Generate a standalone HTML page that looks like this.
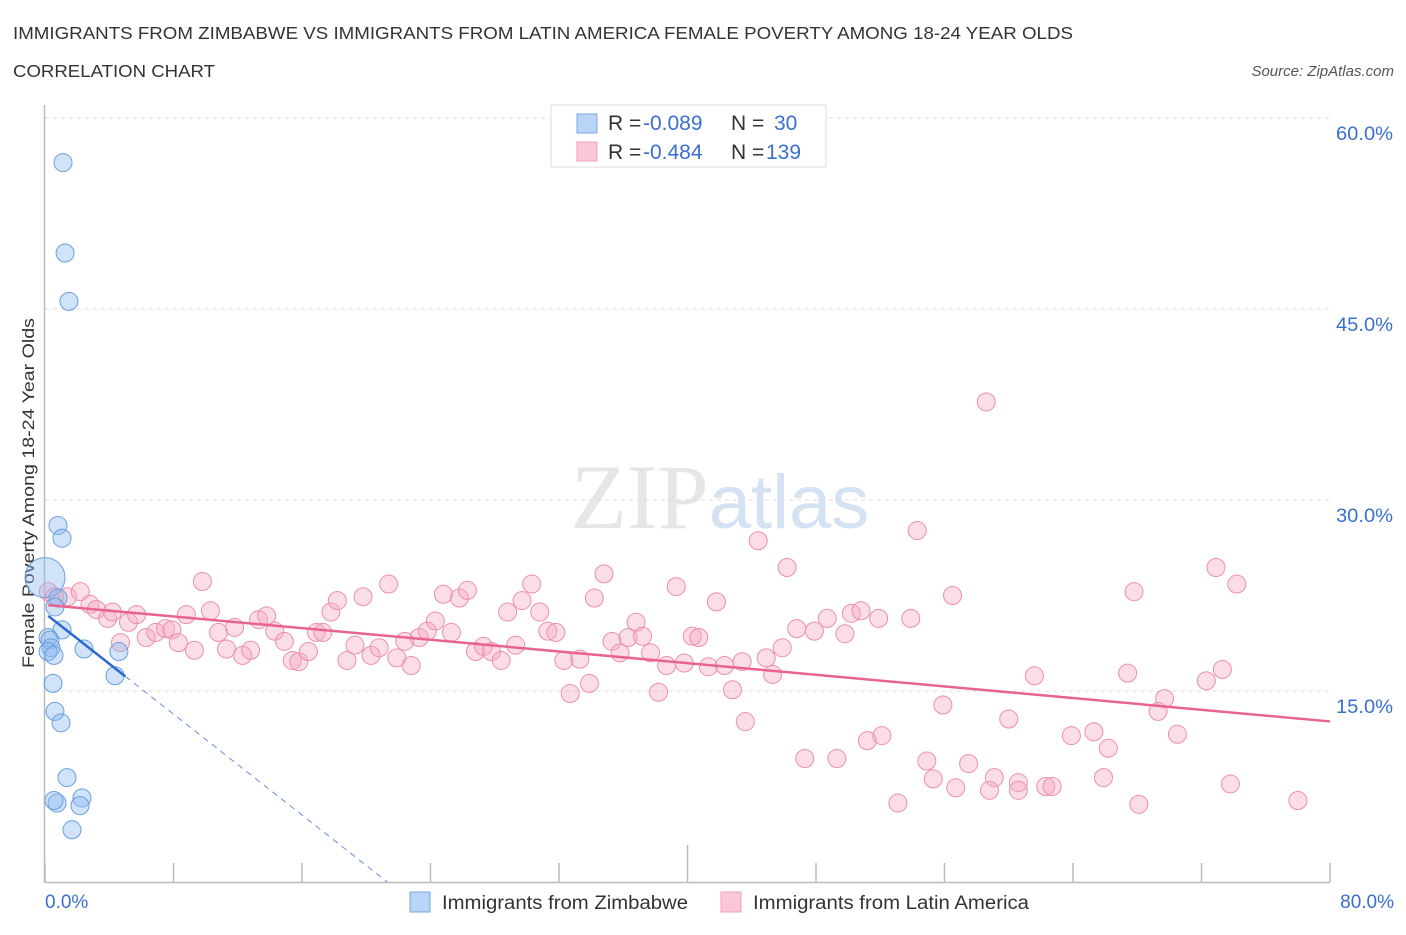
<!DOCTYPE html>
<html><head><meta charset="utf-8"><style>
body{margin:0;background:#fff;font-family:"Liberation Sans",sans-serif;}
svg text{font-family:"Liberation Sans",sans-serif;}
</style></head><body>
<svg id="chart" width="1406" height="930" xmlns="http://www.w3.org/2000/svg">
<text x="13" y="39" font-size="17.5" fill="#333" textLength="1060" lengthAdjust="spacingAndGlyphs">IMMIGRANTS FROM ZIMBABWE VS IMMIGRANTS FROM LATIN AMERICA FEMALE POVERTY AMONG 18-24 YEAR OLDS</text>
<text x="13" y="77" font-size="17.5" fill="#333" textLength="202" lengthAdjust="spacingAndGlyphs">CORRELATION CHART</text>
<text x="1394" y="76" font-size="15" font-style="italic" fill="#555" text-anchor="end">Source: ZipAtlas.com</text>
<text x="720" y="528" font-size="92" text-anchor="middle" fill="#e6e6e6" font-family="Liberation Serif"><tspan font-family="Liberation Serif">ZIP</tspan><tspan font-family="Liberation Sans" fill="#d4e2f4" font-size="76">atlas</tspan></text>
<text transform="translate(34,493) rotate(-90)" font-size="17" fill="#333" text-anchor="middle" textLength="350" lengthAdjust="spacingAndGlyphs">Female Poverty Among 18-24 Year Olds</text>
<g id="grid"></g><g id="axes"></g><g id="marks"></g>
<g>
<rect x="551" y="105" width="275" height="62" fill="#fff" stroke="#ddd"/>
<rect x="577" y="114" width="20" height="19" fill="#b8d4f6" stroke="#7aa8e0"/>
<rect x="577" y="142" width="20" height="19" fill="#fcc6d6" stroke="#eea0b8"/>
<text x="608" y="130" font-size="21" fill="#333">R = <tspan fill="#3a6fd0" x="643">-0.089</tspan><tspan x="731">N = </tspan><tspan fill="#3a6fd0" x="774">30</tspan></text>
<text x="608" y="159" font-size="21" fill="#333">R = <tspan fill="#3a6fd0" x="643">-0.484</tspan><tspan x="731">N = </tspan><tspan fill="#3a6fd0" x="766">139</tspan></text>
</g>
<g>
<rect x="410" y="892" width="20" height="20" fill="#b8d4f6" stroke="#7aa8e0"/>
<text x="442" y="909" font-size="19" fill="#333" textLength="246" lengthAdjust="spacingAndGlyphs">Immigrants from Zimbabwe</text>
<rect x="721" y="892" width="20" height="20" fill="#fcc6d6" stroke="#eea0b8"/>
<text x="753" y="909" font-size="19" fill="#333" textLength="276" lengthAdjust="spacingAndGlyphs">Immigrants from Latin America</text>
</g>
</svg>
<script>
const yTicks=[15,30,45,60];
const yTickLabels=["15.0%","30.0%","45.0%","60.0%"];
const xTicks=[0,10,20,30,40,50,60,70,80];
const xEndLabels=["0.0%","80.0%"];
const zimX=[1.12,1.25,1.49,0.81,1.06,0,0.81,0.62,1.06,0.19,0.31,0.37,0.19,0.56,2.43,4.6,0.5,4.36,0.62,1.0,1.37,0.75,0.56,2.3,2.18,1.68];
const zimY=[56.5,49.4,45.6,28.0,27.0,23.9,22.3,21.6,19.8,19.2,19.0,18.4,18.1,17.8,18.3,18.1,15.6,16.2,13.4,12.5,8.2,6.2,6.4,6.6,6.0,4.1];
const latX=[0.2,0.6,1.4,2.2,2.8,3.2,3.9,4.2,4.7,5.2,5.7,6.3,6.9,7.5,7.9,8.3,8.8,9.3,9.8,10.3,10.8,11.3,11.8,12.3,12.8,13.3,13.8,14.3,14.9,15.4,15.8,16.4,16.9,17.3,17.8,18.2,18.8,19.3,19.8,20.3,20.8,21.4,21.9,22.4,22.8,23.3,23.8,24.3,24.8,25.3,25.8,26.3,26.8,27.3,27.8,28.4,28.8,29.3,29.7,30.3,30.8,31.3,31.8,32.3,32.7,33.3,33.9,34.2,34.8,35.3,35.8,36.3,36.8,37.2,37.7,38.2,38.7,39.3,39.8,40.3,40.7,41.3,41.8,42.3,42.8,43.4,43.6,44.4,44.9,45.3,45.9,46.2,46.8,47.3,47.9,48.7,49.3,49.8,50.2,50.8,51.2,52.1,51.9,53.1,53.9,54.3,54.9,55.3,55.9,56.5,56.7,57.5,58.6,59.1,58.8,60.0,60.6,60.6,61.6,62.3,62.7,63.9,65.3,65.9,66.2,67.4,67.8,68.1,69.3,69.7,70.5,72.3,72.9,73.3,73.8,74.2,78.0];
const latY=[22.8,22.4,22.4,22.8,21.8,21.4,20.7,21.2,18.8,20.4,21.0,19.2,19.6,19.9,19.8,18.8,21.0,18.2,23.6,21.3,19.6,18.3,20.0,17.8,18.2,20.6,20.9,19.7,18.9,17.4,17.3,18.1,19.6,19.6,21.2,22.1,17.4,18.6,22.4,17.8,18.4,23.4,17.6,18.9,17.0,19.2,19.7,20.5,22.6,19.6,22.3,22.9,18.1,18.5,18.1,17.4,21.2,18.6,22.1,23.4,21.2,19.7,19.6,17.4,14.8,17.5,15.6,22.3,24.2,18.9,18.0,19.2,20.4,19.3,18.0,14.9,17.0,23.2,17.2,19.3,19.2,16.9,22.0,17.0,15.1,17.3,12.6,26.8,17.6,16.3,18.4,24.7,19.9,9.7,19.7,20.7,9.7,19.5,21.1,21.3,11.1,11.5,20.7,6.2,20.7,27.6,9.5,8.1,13.9,22.5,7.4,9.3,37.7,8.2,7.2,12.8,7.8,7.2,16.2,7.5,7.5,11.5,11.8,8.2,10.5,16.4,22.8,6.1,13.4,14.4,11.6,15.8,24.7,16.7,7.7,23.4,6.4];
const zimTrend=[21.1,-0.99];
const latTrend=[21.77,-0.1145];
const NS="http://www.w3.org/2000/svg";
const X=v=>45+v*(1285/80);
const Y=v=>882-v*(191/15);
function mk(tag,attrs,parent){const e=document.createElementNS(NS,tag);for(const k in attrs)e.setAttribute(k,attrs[k]);document.getElementById(parent).appendChild(e);return e;}
yTicks.forEach((t,i)=>{
 const g=mk('line',{x1:45,x2:1330,y1:Y(t),y2:Y(t),stroke:'#ddd','stroke-dasharray':'4,4'},'grid');
 
 
 const l=mk('text',{x:1393,y:Y(t)+22,'font-size':19,fill:'#3a6fd0','text-anchor':'end',textLength:57,lengthAdjust:'spacingAndGlyphs'},'axes');
 l.textContent=yTickLabels[i];
 
 
});
const ax=mk('line',{x1:45,x2:1330,y1:882.5,y2:882.5,stroke:'#bbb','stroke-width':1.5},'axes');


const ay=mk('line',{x1:44.5,x2:44.5,y1:105,y2:883,stroke:'#bbb','stroke-width':1.5},'axes');


for(let i=0;i<=10;i++){
 const v=i*8;
 const t=mk('line',{x1:X(v),x2:X(v),y1:i==5?845:863,y2:882,stroke:'#bbb','stroke-width':1.5},'axes');
 
 
}
[[0,'start',45],[80,'end',1394]].forEach((d,i)=>{
 const l=mk('text',{x:d[2],y:908,'font-size':19,fill:'#3a6fd0','text-anchor':d[1]},'axes');
 l.textContent=xEndLabels[i];
 
 
});
latX.forEach((x,i)=>{
 const c=mk('circle',{cx:X(x),cy:Y(latY[i]),r:9,fill:'rgba(246,170,192,0.4)',stroke:'#ec90ab','stroke-width':1},'marks');
 
 
});
zimX.forEach((x,i)=>{
 const c=mk('circle',{cx:X(x),cy:Y(zimY[i]),r:i==5?20:9,fill:'rgba(140,185,240,0.4)',stroke:'#6a9ee0','stroke-width':1},'marks');
 
 
});
const lt=mk('line',{x1:X(0.2),y1:Y(latTrend[0]+latTrend[1]*0.2),x2:X(80),y2:Y(latTrend[0]+latTrend[1]*80),stroke:'#e8648f','stroke-width':2.5},'marks');


const zt=mk('line',{x1:X(0.2),y1:Y(zimTrend[0]+zimTrend[1]*0.2),x2:X(5),y2:Y(zimTrend[0]+zimTrend[1]*5),stroke:'#2a6ad0','stroke-width':2.5},'marks');


const x0=-zimTrend[0]/zimTrend[1];
const zd=mk('line',{x1:X(5),y1:Y(zimTrend[0]+zimTrend[1]*5),x2:X(x0),y2:Y(0),stroke:'#6a8ee0','stroke-width':1,'stroke-dasharray':'6,5'},'marks');


</script>
</body></html>
